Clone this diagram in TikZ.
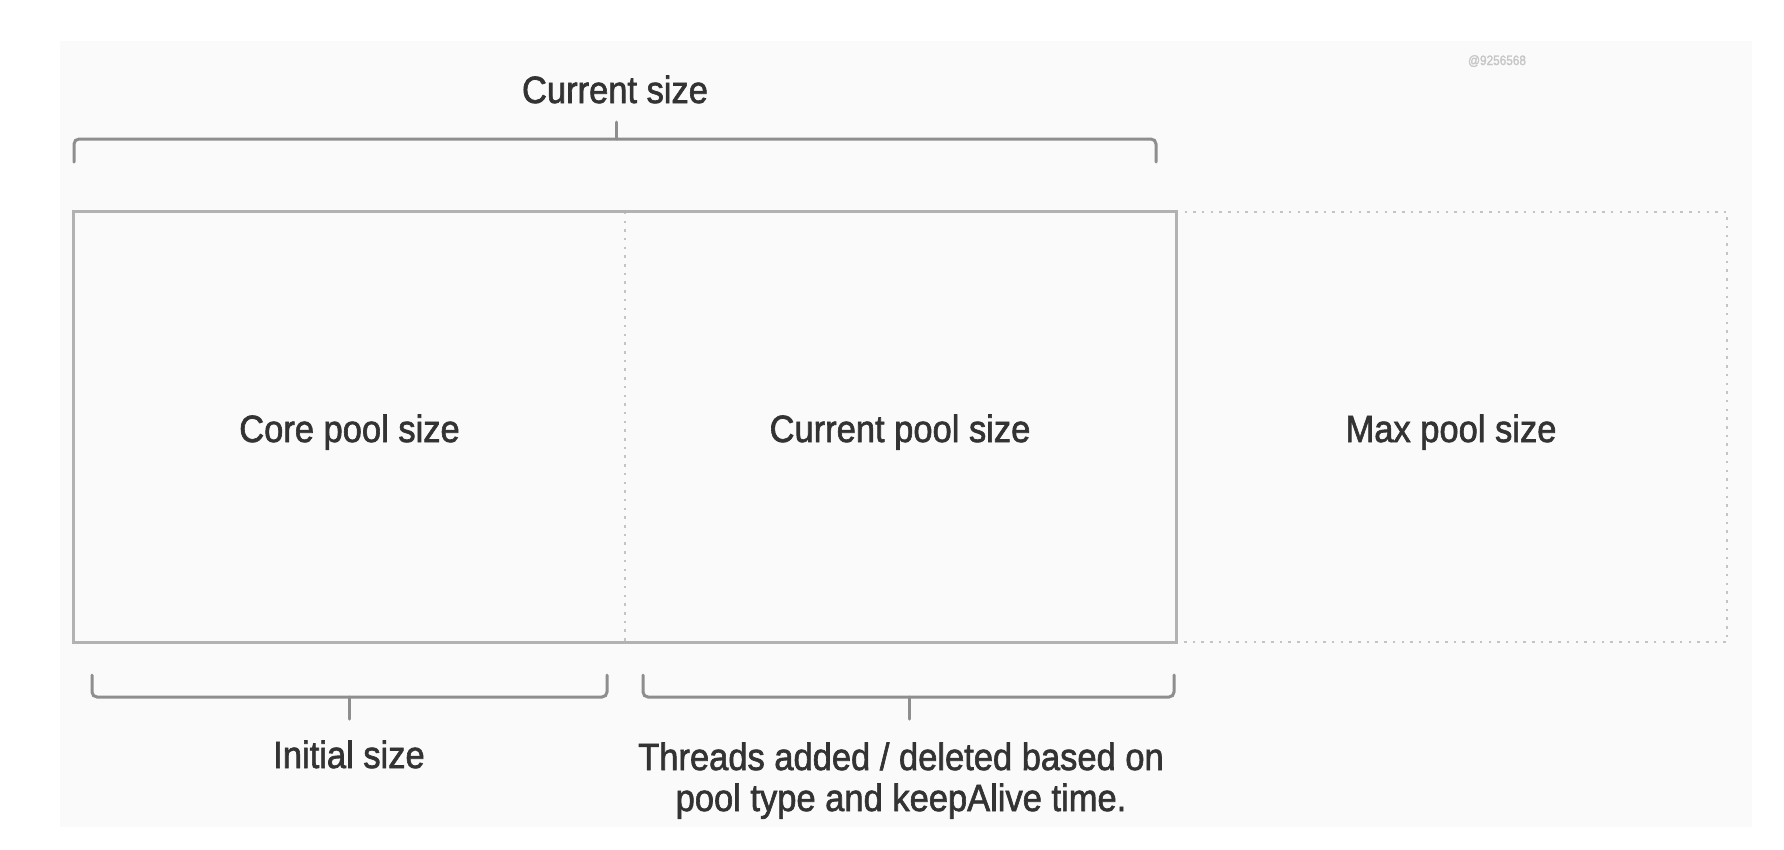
\documentclass[tikz,border=0pt]{standalone}
\usepackage{fontspec}
\setmainfont{Liberation Sans}
\newfontfamily\lblfont{Liberation Sans}[FakeBold=1.8]
\definecolor{bgc}{HTML}{FAFAFA}
\definecolor{txt}{HTML}{333333}
\definecolor{brc}{HTML}{8E8E8E}
\definecolor{frm}{HTML}{B2B2B2}
\definecolor{dotc}{HTML}{C4C4C4}
\definecolor{wm}{HTML}{C6C6C6}
\newcommand{\vstretch}[1]{\scalebox{1}[1.1]{#1}}
\begin{document}
\begin{tikzpicture}[x=1pt,y=-1pt,
  lbl/.style={font=\lblfont\fontsize{34.5}{41}\selectfont, text=txt, inner sep=0pt, anchor=base},
  brace/.style={draw=brc, line width=3pt, rounded corners=5pt, line cap=round},
  tick/.style={draw=brc, line width=3pt, line cap=round},
  frame/.style={draw=frm, line width=3pt},
  dots/.style={draw=dotc, line width=2.5pt, dash pattern=on 2.5pt off 6.2pt},
  region/.style={draw=none, inner sep=0pt, minimum width=551pt, minimum height=430pt}]
\useasboundingbox (0,0) rectangle (1784,849);
\fill[white] (0,0) rectangle (1784,849);
\fill[bgc] (60,41) rectangle (1752,827);
% regions
\node[region] (core) at (349.5,427) {};
\node[region] (cur) at (900.5,427) {};
\node[region] (maxr) at (1451.5,427) {};
\draw[dots] (core.north east) -- (core.south east);
\draw[dots] (maxr.north west) -- (maxr.north east) -- (maxr.south east) -- (maxr.south west);
\draw[frame] (core.north west) -- (cur.north east) -- (cur.south east) -- (core.south west) -- cycle;
% labels
\node[lbl] (coreL) at (349.5,442) {\vstretch{Core pool size}};
\node[lbl] (curL) at (900,442) {\vstretch{Current pool size}};
\node[lbl] (maxL) at (1451,442) {\vstretch{Max pool size}};
\node[lbl] (curS) at (615,103) {\vstretch{Current size}};
\node[lbl] (init) at (349,768) {\vstretch{Initial size}};
\node[lbl] (thr1) at (901,770) {\vstretch{Threads added / deleted based on}};
\node[lbl] (thr2) at (901,811) {\vstretch{pool type and keepAlive time.}};
\node[font=\lblfont\fontsize{11.8}{14}\selectfont, text=wm, inner sep=0pt, anchor=base] (wmk) at (1497,65) {\scalebox{1}[1.15]{@9256568}};
% top brace
\coordinate (tb1) at (74,162);
\coordinate (tbm) at (616,139);
\coordinate (tbt) at (616,122);
\coordinate (tb2) at (1156,162);
\draw[brace] (tb1) |- (tbm) -| (tb2);
\draw[tick] (tbm) -- (tbt);
% bottom left brace
\coordinate (bl1) at (92,675);
\coordinate (blm) at (349,697);
\coordinate (blt) at (349,719);
\coordinate (bl2) at (607,675);
\draw[brace] (bl1) |- (blm) -| (bl2);
\draw[tick] (blm) -- (blt);
% bottom right brace
\coordinate (br1) at (643,675);
\coordinate (brm) at (909,697);
\coordinate (brt) at (909,719);
\coordinate (br2) at (1174,675);
\draw[brace] (br1) |- (brm) -| (br2);
\draw[tick] (brm) -- (brt);
\end{tikzpicture}
\end{document}
